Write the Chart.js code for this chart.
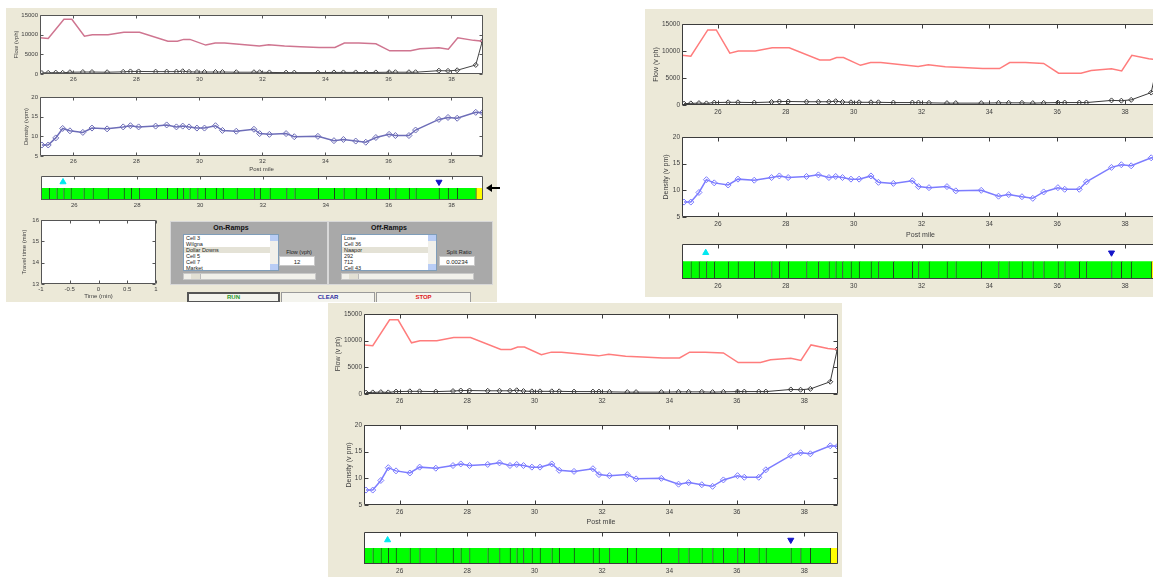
<!DOCTYPE html>
<html>
<head>
<meta charset="utf-8">
<title>Freeway cell model</title>
<script src="https://cdn.jsdelivr.net/npm/chart.js@4.4.0/dist/chart.umd.min.js"></script>
<style>
  body { margin:0; width:1153px; height:577px; overflow:hidden; background:#fff; position:relative;
         font-family:"Liberation Sans", Arial, sans-serif; }
  .panel { position:absolute; background:#ece9d8; overflow:hidden; }
  canvas { position:absolute; }
  .ramp { position:absolute; height:64px; background:#a9a9a9; border:1px solid #d8d8d8; box-sizing:border-box; font-size:6px; }
  .rtitle { position:absolute; left:12px; width:96px; top:2px; text-align:center; font-weight:bold; font-size:7px; color:#111; }
  .list { position:absolute; left:12px; top:12px; width:96px; height:37px; background:#fff; border:1px solid #7f9db9; box-sizing:border-box; }
  .list div.it { height:6px; line-height:6px; padding-left:2px; color:#222; font-size:5.5px; white-space:nowrap; }
  .list div.sel { background:#e4e2d6; }
  .vs { position:absolute; right:0; top:0; width:8px; height:35px; background:#f1f0ea; }
  .ab { position:absolute; left:0; width:8px; height:6px; background:#b9cdf5; }
  .ab.up { top:0; } .ab.dn { bottom:0; }
  .hs { position:absolute; left:12px; top:51px; width:133px; height:7px; background:#f1f0ea; border:1px solid #c8c8c8; box-sizing:border-box; }
  .hs .th { position:absolute; left:7px; top:0; width:9px; height:5px; background:#e2e0d4; border-right:1px solid #bbb; }
  .flab { position:absolute; left:106px; width:44px; top:27px; text-align:center; color:#222; font-size:5.5px; }
  .inp { position:absolute; left:108px; top:34px; width:36px; height:10px; line-height:10px; background:#fff; border:1px solid #c8c8c8; box-sizing:border-box; text-align:center; color:#222; font-size:6px; }
  .btn { position:absolute; top:284px; height:11px; line-height:9px; background:#f4f4ee; border:1px solid #9a9a9a; box-sizing:border-box; text-align:center; font-size:6px; font-weight:bold; }
</style>
</head>
<body>
<div class="panel" id="p1" style="left:6px;top:8px;width:491px;height:294px">
  <div class="ramp" style="left:164px;top:213px;width:158px">
    <div class="rtitle">On-Ramps</div>
    <div class="list">
      <div class="it">Cell 3</div><div class="it">Wilgna</div><div class="it sel">Dollar Downs</div>
      <div class="it">Cell 5</div><div class="it">Cell 7</div><div class="it">Market</div>
      <div class="vs"><span class="ab up"></span><span class="ab dn"></span></div>
    </div>
    <div class="hs"><span class="th"></span></div>
    <div class="flab">Flow (vph)</div>
    <div class="inp">12</div>
  </div>
  <div class="ramp" style="left:322px;top:213px;width:165px">
    <div class="rtitle">Off-Ramps</div>
    <div class="list">
      <div class="it">Lose</div><div class="it">Cell 36</div><div class="it sel">Naapor</div>
      <div class="it">292</div><div class="it">712</div><div class="it">Cell 43</div>
      <div class="vs"><span class="ab up"></span><span class="ab dn"></span></div>
    </div>
    <div class="hs"><span class="th"></span></div>
    <div class="flab" style="left:108px">Split Ratio</div>
    <div class="inp" style="left:110px">0.00234</div>
  </div>
  <div class="btn" style="left:181px;width:93px;border:2px solid #555;line-height:7px;color:#2a9a2a">RUN</div>
  <div class="btn" style="left:275px;width:94px;color:#2a2aa0">CLEAR</div>
  <div class="btn" style="left:370px;width:95px;color:#e02020">STOP</div>
</div>
<div class="panel" id="p2" style="left:645px;top:9px;width:508px;height:288px"></div>
<div class="panel" id="p3" style="left:328px;top:303px;width:514px;height:274px"></div>
<svg style="position:absolute;left:486px;top:183px" width="14" height="10">
  <polygon points="0,5 6,1 6,9" fill="#000"/><rect x="5" y="4" width="9" height="2" fill="#000"/>
</svg>
<script>
// cell post miles and cell values
const postMiles = [25.0, 25.2, 25.44, 25.66, 25.89, 26.3, 26.59, 27.07, 27.58, 27.81, 28.07, 28.61, 28.96, 29.27, 29.47, 29.67, 29.92, 30.16, 30.51, 30.73, 31.17, 31.73, 31.91, 32.22, 32.75, 33.01, 33.76, 34.27, 34.57, 34.96, 35.28, 35.6, 36.02, 36.22, 36.65, 36.86, 37.6, 37.89, 38.18, 38.77, 38.98];
const cellFlow = [250, 300, 350, 300, 450, 500, 500, 450, 550, 650, 650, 600, 600, 600, 700, 550, 500, 500, 500, 500, 450, 450, 450, 400, 350, 350, 350, 400, 400, 400, 350, 400, 450, 450, 450, 450, 850, 800, 950, 2300, 8400];
const cellDensity = [7.8, 7.8, 9.6, 12.0, 11.4, 11.0, 12.1, 11.9, 12.4, 12.7, 12.4, 12.6, 12.9, 12.4, 12.6, 12.4, 12.1, 12.1, 12.7, 11.5, 11.3, 11.8, 10.7, 10.5, 10.7, 9.9, 10.0, 8.9, 9.2, 8.8, 8.5, 9.7, 10.5, 10.2, 10.2, 11.6, 14.3, 14.8, 14.6, 16.1, 16.0];

// red flow line
const redMiles = [24.94, 25.2, 25.7, 25.95, 26.35, 26.6, 27.1, 27.6, 28.1, 29.0, 29.3, 29.5, 29.7, 30.2, 30.5, 30.8, 31.9, 32.2, 32.7, 33.2, 33.8, 34.3, 34.6, 35.06, 35.6, 36.04, 36.7, 37.0, 37.6, 37.9, 38.2, 38.7, 39.0];
const redFlow = [9200, 9050, 13900, 13900, 9600, 10000, 10000, 10600, 10600, 8350, 8350, 8800, 8800, 7350, 7850, 7850, 7150, 7450, 7100, 6950, 6750, 6750, 7850, 7850, 7700, 5900, 5900, 6400, 6700, 6300, 9200, 8550, 8350];

// cell strip
const cellEdges = [24.94, 25.2, 25.44, 25.66, 25.89, 26.3, 26.59, 27.07, 27.58, 27.81, 28.07, 28.61, 28.96, 29.27, 29.47, 29.67, 29.92, 30.16, 30.51, 30.73, 31.17, 31.73, 31.91, 32.22, 32.75, 33.01, 33.76, 34.27, 34.57, 34.96, 35.28, 35.6, 36.02, 36.22, 36.65, 36.86, 37.6, 37.89, 38.18, 38.77, 39.0];
const queueCells = [39];
const onRampMile = 25.64;
const offRampMile = 37.6;

const mileTicks = [26, 28, 30, 32, 34, 36, 38];
const flowTicks = [0, 5000, 10000, 15000];
const densityTicks = [5, 10, 15, 20];
const timeTicks = [-1, -0.5, 0, 0.5, 1];
const travelTicks = [13, 14, 15, 16];

const FONT = '"Liberation Sans", Arial, sans-serif';
const TXT = '#404040';

// white axes box with inward ticks on all sides (matlab look)
const framePlugin = {
  id: 'frame',
  beforeDatasetsDraw(chart) {
    const { ctx, chartArea: a } = chart;
    ctx.save();
    ctx.fillStyle = '#fff';
    ctx.fillRect(a.left, a.top, a.width, a.height);
    ctx.restore();
  },
  afterDatasetsDraw(chart, args, opts) {
    const { ctx, chartArea: a, scales } = chart;
    const tl = opts.tick || 4;
    const L = Math.round(a.left) + 0.5, R = Math.round(a.right) - 0.5;
    const T = Math.round(a.top) + 0.5, B = Math.round(a.bottom) - 0.5;
    ctx.save();
    ctx.strokeStyle = opts.color || '#3c3c3c';
    ctx.lineWidth = 1;
    ctx.beginPath();
    ctx.rect(L, T, R - L, B - T);
    scales.x.ticks.forEach(t => {
      const px = Math.round(scales.x.getPixelForValue(t.value)) + 0.5;
      ctx.moveTo(px, T); ctx.lineTo(px, T + tl);
      if (!opts.topOnly) { ctx.moveTo(px, B); ctx.lineTo(px, B - tl); }
    });
    if (!opts.topOnly) {
      scales.y.ticks.forEach(t => {
        const py = Math.round(scales.y.getPixelForValue(t.value)) + 0.5;
        ctx.moveTo(L, py); ctx.lineTo(L + tl, py);
        ctx.moveTo(R, py); ctx.lineTo(R - tl, py);
      });
    }
    ctx.stroke();
    ctx.restore();
  }
};

function place(panelId, x, y, w, h) {
  const p = document.getElementById(panelId);
  const c = document.createElement('canvas');
  c.width = w; c.height = h;
  c.style.left = (x - p.offsetLeft) + 'px';
  c.style.top = (y - p.offsetTop) + 'px';
  p.appendChild(c);
  return c;
}

function plot(panelId, box, o) {
  const pt = 6, pr = 6;
  const yW = o.yW;
  const canvas = place(panelId, box.x - yW, box.y - pt, yW + box.w + pr, pt + box.h + o.xH);
  const font = { family: FONT, size: o.fs };
  const tickFont = { family: FONT, size: o.tfs || o.fs };
  return new Chart(canvas, {
    type: o.type || 'line',
    data: { datasets: o.datasets },
    options: {
      responsive: false, animation: false, events: [],
      layout: { padding: { top: pt, right: pr, left: 0, bottom: 0 } },
      plugins: { legend: { display: false }, tooltip: { enabled: false }, frame: o.frame },
      scales: {
        x: {
          type: 'linear', min: o.xMin, max: o.xMax, offset: false,
          grid: { display: false, drawTicks: false, offset: false }, border: { display: false },
          afterBuildTicks: s => { s.ticks = o.xTicks.map(v => ({ value: v })); },
          afterFit: s => { s.height = o.xH; },
          ticks: { font: tickFont, color: TXT, padding: o.fs > 6 ? 3 : 2, maxRotation: 0, autoSkip: false, callback: v => String(v) },
          title: { display: !!o.xTitle, text: o.xTitle, font, color: TXT, padding: 0 }
        },
        y: {
          type: 'linear', min: o.yMin, max: o.yMax, offset: false,
          grid: { display: false, drawTicks: false, offset: false }, border: { display: false },
          afterBuildTicks: s => { s.ticks = (o.yTicks || []).map(v => ({ value: v })); },
          afterFit: s => { s.width = yW; },
          ticks: { font: tickFont, color: TXT, padding: 2, callback: v => String(v) },
          title: { display: !!o.yTitle, text: o.yTitle, font, color: TXT, padding: 0 }
        }
      }
    },
    plugins: [framePlugin]
  });
}

const panels = [
  { id: 'p1', fs: 6, tfs: 6, tick: 3,
    flow: { x: 40, y: 15, w: 443, h: 59 }, dens: { x: 40, y: 97, w: 443, h: 59 }, bar: { x: 41, y: 176, w: 442, h: 24, g: 12 },
    yWf: 27, yWd: 17, xHd: 17, flowTitle: 'Flow (vph)', densTitle: 'Density (vpm)',
    red: '#cf7590', dark: '#454545', blue: '#6d6db8', frame: '#555' },
  { id: 'p2', fs: 7, tfs: 6.5, tick: 4,
    flow: { x: 682, y: 24, w: 477, h: 81 }, dens: { x: 682, y: 137, w: 477, h: 80 }, bar: { x: 682, y: 244, w: 477, h: 35, g: 18 },
    yWf: 30, yWd: 20, xHd: 22, flowTitle: 'Flow (v ph)', densTitle: 'Density (v pm)',
    red: '#ff7c7c', dark: '#3a3a3a', blue: '#7c7cff', frame: '#3c3c3c' },
  { id: 'p3', fs: 7, tfs: 6.5, tick: 4,
    flow: { x: 364, y: 314, w: 474, h: 80 }, dens: { x: 364, y: 425, w: 474, h: 80 }, bar: { x: 364, y: 532, w: 474, h: 32, g: 16 },
    yWf: 30, yWd: 19, xHd: 21, flowTitle: 'Flow (v ph)', densTitle: 'Density (v pm)',
    red: '#ff7c7c', dark: '#3a3a3a', blue: '#7c7cff', frame: '#3c3c3c' }
];

panels.forEach(P => {
  const frame = { tick: P.tick, color: P.frame };
  plot(P.id, P.flow, {
    fs: P.fs, tfs: P.tfs, yW: P.yWf, xH: 12, xMin: 24.94, xMax: 39, yMin: 0, yMax: 15000,
    xTicks: mileTicks, yTicks: flowTicks, yTitle: P.flowTitle, frame,
    datasets: [
      { data: redMiles.map((x, i) => ({ x, y: redFlow[i] })), borderColor: P.red, borderWidth: 1.5, pointRadius: 0 },
      { data: postMiles.map((x, i) => ({ x, y: cellFlow[i] })), borderColor: P.dark, borderWidth: 1,
        pointStyle: 'rectRot', pointRadius: 2.5, pointBorderColor: P.dark, pointBackgroundColor: 'rgba(255,255,255,0)', pointBorderWidth: 1 }
    ]
  });
  plot(P.id, P.dens, {
    fs: P.fs, tfs: P.tfs, yW: P.yWd, xH: P.xHd, xMin: 24.94, xMax: 39, yMin: 5, yMax: 20,
    xTicks: mileTicks, yTicks: densityTicks, yTitle: P.densTitle, xTitle: 'Post mile', frame,
    datasets: [
      { data: postMiles.map((x, i) => ({ x, y: cellDensity[i] })), borderColor: P.blue, borderWidth: 1.5,
        pointStyle: 'rectRot', pointRadius: 3, pointBorderColor: P.blue, pointBackgroundColor: 'rgba(255,255,255,0)', pointBorderWidth: 1 }
    ]
  });
  plot(P.id, P.bar, {
    type: 'bar', fs: P.fs, tfs: P.tfs, yW: 6, xH: 12, xMin: 24.94, xMax: 39, yMin: 0, yMax: 2,
    xTicks: mileTicks, frame: { tick: P.tick, color: P.frame, topOnly: true },
    datasets: [
      { indexAxis: 'y', grouped: false, barThickness: P.bar.g,
        data: cellEdges.slice(0, -1).map((a, i) => ({ x: [a, cellEdges[i + 1]], y: 0.5 })),
        backgroundColor: cellEdges.slice(1).map((_, i) => queueCells.includes(i) ? '#ffff00' : '#00ff00'),
        borderColor: '#1c401c', borderWidth: { left: 1 }, borderSkipped: false },
      { type: 'scatter', data: [{ x: onRampMile, y: 1.5 }], pointStyle: 'triangle', pointRadius: 3.5,
        backgroundColor: '#00e8f0', borderColor: '#00e8f0' },
      { type: 'scatter', data: [{ x: offRampMile, y: 1.5 }], pointStyle: 'triangle', rotation: 180, pointRadius: 3.5,
        backgroundColor: '#1414c8', borderColor: '#1414c8' }
    ]
  });
});

// travel time axes (empty)
plot('p1', { x: 41, y: 220, w: 115, h: 64 }, {
  fs: 6, yW: 20, xH: 16, xMin: -1, xMax: 1, yMin: 13, yMax: 16,
  xTicks: timeTicks, yTicks: travelTicks, yTitle: 'Travel time (min)', xTitle: 'Time (min)',
  frame: { tick: 3, color: '#555' }, datasets: []
});
</script>
</body>
</html>
